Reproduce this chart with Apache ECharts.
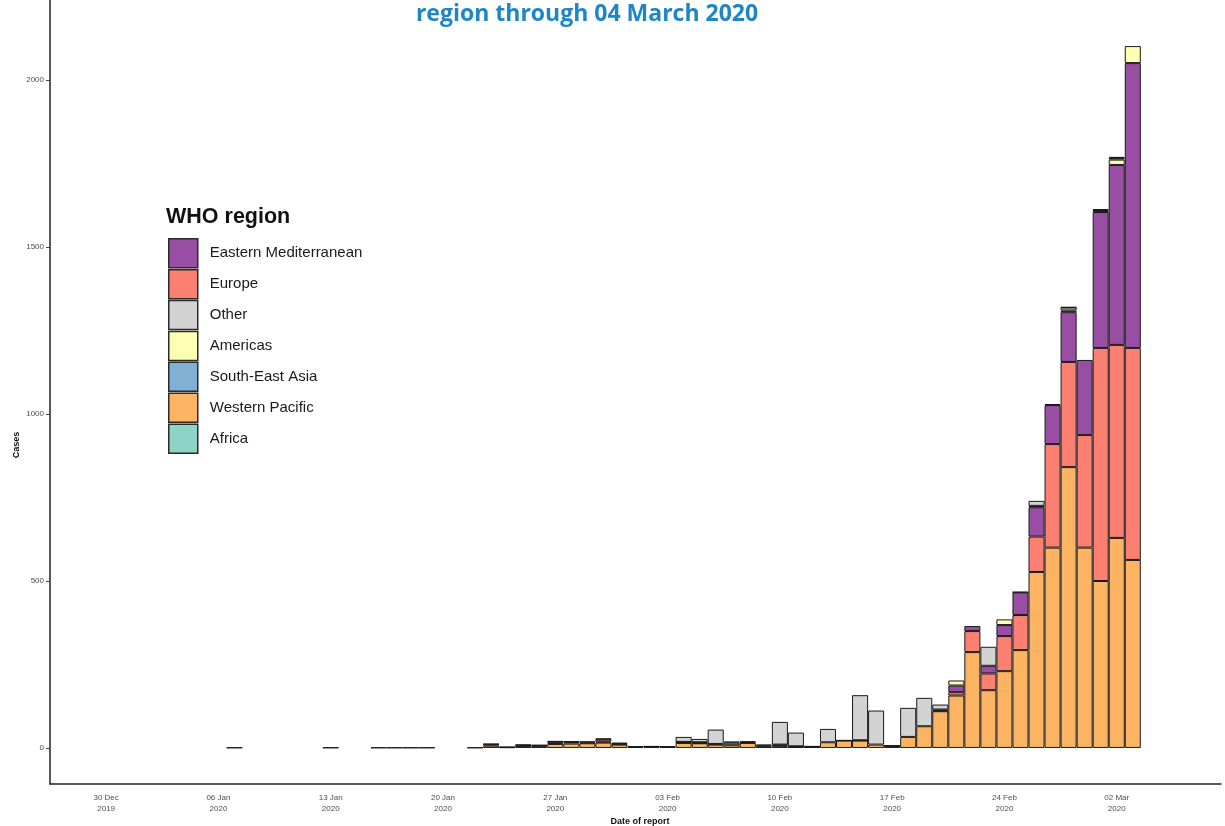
<!DOCTYPE html>
<html><head><meta charset="utf-8">
<script src="https://cdn.jsdelivr.net/npm/echarts@6/dist/echarts.min.js"></script>
<style>html,body{margin:0;padding:0;background:#fff;overflow:hidden}#c{width:1225px;height:826px}</style>
</head><body><div id="c"></div>
<script>
// ---- axis setup ----
const axisStart = '2019-12-27';
const axisDayCount = 73;
const firstReportDate = '2020-01-07';
const tickDates = ['2019-12-30','2020-01-06','2020-01-13','2020-01-20','2020-01-27','2020-02-03','2020-02-10','2020-02-17','2020-02-24','2020-03-02'];
const yTicks = [0, 500, 1000, 1500, 2000];
const regionNames = ['Eastern Mediterranean','Europe','Other','Americas','South-East Asia','Western Pacific','Africa'];

// ---- daily cases by date of report, 07 Jan 2020 .. 03 Mar 2020 ----
const westernPacific = [
  1,0,0,0,0,0,1,0,0,1,1,1,1,0,0,1,7,2,6,5,12,13,14,16,10,
  3,3,3,15,14,10,8,15,4,5,4,3,17,22,22,10,5,33,65,110,157,287,173,230,293,527,600,841,600,
  500,629,563];
const southEastAsia = [
  0,0,0,0,0,0,0,0,0,0,0,0,0,0,0,0,4,1,2,2,4,0,2,3,2,
  0,1,0,2,0,2,8,2,3,3,0,1,0,0,0,0,1,0,0,0,0,0,0,0,0,0,0,0,0,
  0,0,0];
const europe = [
  0,0,0,0,0,0,0,0,0,0,0,0,0,0,0,0,0,0,2,0,3,5,4,7,4,
  2,0,2,1,1,0,3,3,3,2,1,1,0,1,1,0,1,0,0,2,10,63,50,105,105,106,310,315,337,
  698,578,635];
const easternMediterranean = [
  0,0,0,0,0,0,0,0,0,0,0,0,0,0,0,0,0,0,0,0,0,0,0,0,0,
  0,0,0,0,0,0,0,0,0,0,0,0,0,0,0,0,0,0,0,3,20,15,23,33,68,88,117,149,225,
  407,539,853];
const americas = [
  0,0,0,0,0,0,0,0,0,0,0,0,0,0,0,0,1,0,0,2,1,2,0,2,0,
  0,1,0,0,2,0,0,0,0,0,0,0,0,0,0,0,0,0,0,0,15,0,0,17,0,4,0,5,0,
  6,16,51];
const other = [
  0,0,0,0,0,0,0,0,0,0,0,0,0,0,0,0,0,0,0,0,0,0,0,0,0,
  0,0,0,15,10,43,0,0,0,68,41,0,40,0,135,102,0,87,85,15,0,0,57,0,0,15,3,9,0,
  0,5,0];
const africa = [
  0,0,0,0,0,0,0,0,0,0,0,0,0,0,0,0,0,0,0,0,0,0,0,0,0,
  0,0,0,0,0,0,0,0,0,0,0,0,0,0,0,0,0,0,0,0,0,0,0,0,1,0,0,1,0,
  3,3,0];

const regionColors = {
  'Eastern Mediterranean': '#984EA3',
  'Europe': '#FB8072',
  'Other': '#D3D3D3',
  'Americas': '#FFFFB3',
  'South-East Asia': '#80B1D3',
  'Western Pacific': '#FDB462',
  'Africa': '#8DD3C7'
};

// stacking order bottom -> top
const stackOrder = [
  ['Western Pacific', westernPacific],
  ['South-East Asia', southEastAsia],
  ['Europe', europe],
  ['Eastern Mediterranean', easternMediterranean],
  ['Americas', americas],
  ['Other', other],
  ['Africa', africa]
];

function addDays(iso, n) {
  const d = new Date(iso + 'T00:00:00Z');
  d.setUTCDate(d.getUTCDate() + n);
  return d.toISOString().slice(0, 10);
}
const categories = [];
for (let i = 0; i < axisDayCount; i++) categories.push(addDays(axisStart, i));
const offset = categories.indexOf(firstReportDate);
const months = ['Jan','Feb','Mar','Apr','May','Jun','Jul','Aug','Sep','Oct','Nov','Dec'];
function fmt(v) {
  const [y, m, d] = v.split('-');
  return d + ' ' + months[+m - 1] + '\n' + y;
}
const isTick = (idx, v) => tickDates.indexOf(v) >= 0;

const series = stackOrder.map(([name, arr]) => ({
  name, type: 'bar', stack: 'cases',
  barCategoryGap: '0%', barGap: '0%',
  itemStyle: { color: regionColors[name], borderColor: '#1a1a1a', borderWidth: 1 },
  emphasis: { disabled: true },
  data: categories.map((c, i) => {
    const j = i - offset;
    const v = (j >= 0 && j < arr.length) ? arr[j] : 0;
    return v > 0 ? v : '-';
  })
}));

const chart = echarts.init(document.getElementById('c'));
chart.setOption({
  animation: false,
  backgroundColor: '#fff',
  grid: { left: 50, right: 4, top: 0, bottom: 42 },
  legend: {
    data: regionNames,
    orient: 'vertical', left: 168, top: 238, padding: 0,
    itemWidth: 29, itemHeight: 29, itemGap: 0.4,
    icon: 'rect',
    itemStyle: { borderColor: '#2a2a2a', borderWidth: 1.5 },
    textStyle: { fontFamily: 'Liberation Sans', fontSize: 15, color: '#1a1a1a', padding: [0, 0, 0, 7] },
    selectedMode: false
  },
  xAxis: {
    type: 'category', data: categories, boundaryGap: true,
    axisLine: { onZero: false, lineStyle: { color: '#222', width: 1.5 } },
    axisTick: { alignWithLabel: true, interval: isTick, length: 4, lineStyle: { color: '#444' } },
    axisLabel: { interval: isTick, formatter: fmt, fontFamily: 'Liberation Sans', fontSize: 8, color: '#4d4d4d', lineHeight: 11, margin: 8 }
  },
  yAxis: {
    type: 'value', min: -108, max: 2240,
    splitLine: { show: false },
    axisLine: { show: true, lineStyle: { color: '#222', width: 1.5 } },
    axisTick: { show: true, length: 4, customValues: yTicks, lineStyle: { color: '#444' } },
    axisLabel: { customValues: yTicks, formatter: v => String(v), fontFamily: 'Liberation Sans', fontSize: 8, color: '#4d4d4d', margin: 6 }
  },
  graphic: [
    { type: 'text', x: 587, y: 3, style: { text: 'region through 04 March 2020', fill: '#1E86C6', font: 'bold 23px "Open Sans", "Liberation Sans", sans-serif', textAlign: 'center' } },
    { type: 'text', left: 166, top: 206, style: { text: 'WHO region', fill: '#111', font: 'bold 21.5px "Liberation Sans", sans-serif' } },
    { type: 'text', x: 17, y: 445, rotation: Math.PI / 2, style: { text: 'Cases', fill: '#111', font: 'bold 9px "Liberation Sans", sans-serif', textAlign: 'center', textVerticalAlign: 'middle' } },
    { type: 'text', x: 640, y: 822, style: { text: 'Date of report', fill: '#111', font: 'bold 9px "Liberation Sans", sans-serif', textAlign: 'center', textVerticalAlign: 'middle' } }
  ],
  series
});
</script></body></html>
